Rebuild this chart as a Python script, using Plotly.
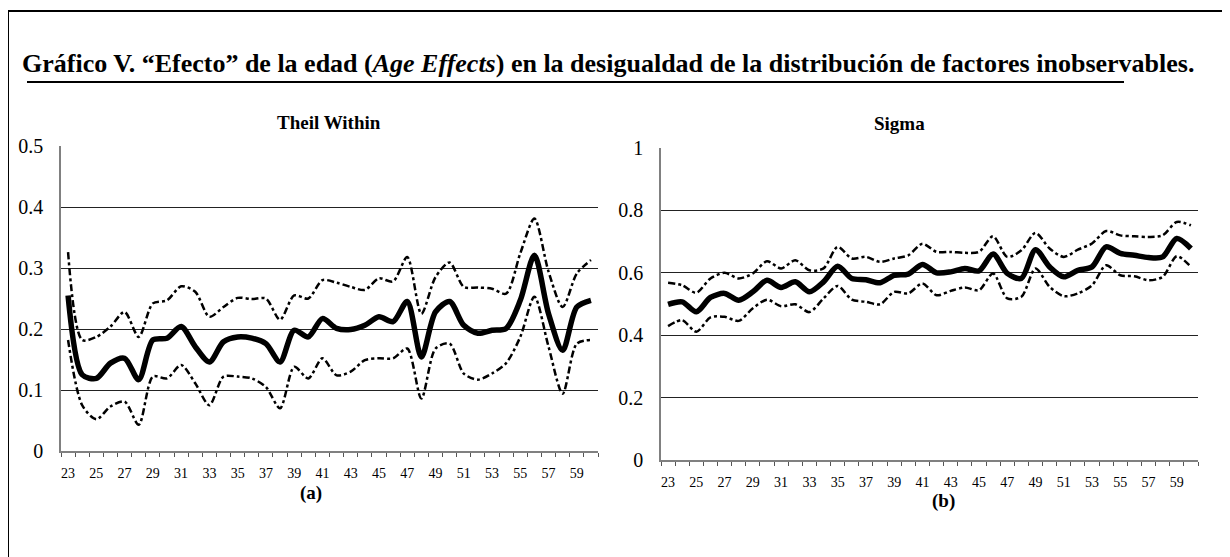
import plotly.graph_objects as go

W, H = 1230, 557
ages = list(range(23, 61))

theil_est = [0.255, 0.125, 0.119, 0.144, 0.152, 0.117, 0.182, 0.185, 0.204, 0.171,
             0.146, 0.179, 0.187, 0.185, 0.176, 0.146, 0.198, 0.187, 0.217, 0.201,
             0.199, 0.206, 0.220, 0.212, 0.245, 0.154, 0.228, 0.245, 0.206, 0.193,
             0.198, 0.201, 0.247, 0.321, 0.225, 0.165, 0.236, 0.247]
theil_up = [0.326, 0.182, 0.187, 0.204, 0.228, 0.187, 0.242, 0.247, 0.270, 0.261,
            0.220, 0.236, 0.251, 0.249, 0.250, 0.215, 0.255, 0.250, 0.280, 0.276,
            0.269, 0.264, 0.283, 0.278, 0.318, 0.225, 0.285, 0.309, 0.269, 0.268,
            0.266, 0.258, 0.324, 0.381, 0.294, 0.236, 0.291, 0.313]
theil_lo = [0.182, 0.075, 0.052, 0.073, 0.081, 0.043, 0.122, 0.119, 0.141, 0.111,
            0.075, 0.122, 0.122, 0.119, 0.105, 0.070, 0.138, 0.119, 0.152, 0.124,
            0.130, 0.149, 0.152, 0.152, 0.168, 0.086, 0.168, 0.176, 0.127, 0.117,
            0.127, 0.144, 0.187, 0.253, 0.171, 0.094, 0.176, 0.182]

sigma_est = [0.499, 0.507, 0.475, 0.521, 0.534, 0.512, 0.539, 0.576, 0.553, 0.571,
             0.539, 0.571, 0.621, 0.582, 0.578, 0.568, 0.592, 0.596, 0.627, 0.600,
             0.603, 0.614, 0.606, 0.660, 0.598, 0.582, 0.674, 0.619, 0.587, 0.608,
             0.619, 0.683, 0.662, 0.656, 0.649, 0.651, 0.710, 0.678]
sigma_up = [0.568, 0.560, 0.536, 0.582, 0.600, 0.582, 0.598, 0.637, 0.614, 0.640,
            0.608, 0.614, 0.683, 0.646, 0.651, 0.635, 0.646, 0.656, 0.693, 0.667,
            0.667, 0.664, 0.667, 0.717, 0.651, 0.672, 0.728, 0.678, 0.651, 0.674,
            0.694, 0.734, 0.720, 0.717, 0.715, 0.720, 0.763, 0.752]
sigma_lo = [0.429, 0.448, 0.411, 0.457, 0.459, 0.446, 0.486, 0.514, 0.493, 0.499,
            0.474, 0.518, 0.558, 0.514, 0.507, 0.499, 0.539, 0.534, 0.566, 0.528,
            0.542, 0.553, 0.544, 0.598, 0.518, 0.523, 0.614, 0.555, 0.525, 0.534,
            0.560, 0.624, 0.592, 0.589, 0.576, 0.587, 0.653, 0.619]

tick_labels = [str(a) for a in range(23, 61, 2)]

SERIF = "Liberation Serif"
DASH = "7px,3px,3px,3px"
OFF = 8  # page body margin in the browser

fig = go.Figure()

def add_panel(xa, ya, est, up, lo):
    for band in (up, lo):
        fig.add_trace(go.Scatter(x=ages, y=band, mode="lines",
                                 line=dict(color="black", width=2.5, dash=DASH, shape="spline", smoothing=0.8),
                                 xaxis=xa, yaxis=ya, showlegend=False, hoverinfo="skip"))
    fig.add_trace(go.Scatter(x=ages, y=est, mode="lines",
                             line=dict(color="black", width=5.5, shape="spline", smoothing=0.8),
                             xaxis=xa, yaxis=ya, showlegend=False, hoverinfo="skip"))

add_panel("x", "y", theil_est, theil_up, theil_lo)
add_panel("x2", "y2", sigma_est, sigma_up, sigma_lo)

def px_x(p):
    return max(0.0, (p - OFF) / W)

def px_y(p):
    return min(1.0, 1 - (p - OFF) / H)

xcommon = dict(
    range=[22.5, 60.5], tickmode="array", tickvals=list(range(23, 61, 2)), ticktext=tick_labels,
    ticks="outside", ticklen=0, showgrid=False, zeroline=False, showline=True, linecolor="#808080", linewidth=1.5,
    tickfont=dict(family=SERIF, size=14, color="black"), ticklabelstandoff=8, automargin=False,
    minor=dict(tickmode="array", tickvals=[22.5 + i for i in range(39)], ticks="outside", ticklen=4,
               tickcolor="#555555", tickwidth=1, showgrid=False),
    fixedrange=True,
)
ycommon = dict(
    showgrid=True, gridcolor="#222222", gridwidth=1, zeroline=False, showline=True, linecolor="#808080", linewidth=1.5,
    ticks="", tickfont=dict(family=SERIF, size=20, color="black"), ticklabelstandoff=12, automargin=False,
    fixedrange=True,
)

fig.update_layout(
    template="none",
    width=W, height=H, autosize=False, margin=dict(l=0, r=0, t=0, b=0, pad=0),
    paper_bgcolor="white", plot_bgcolor="white",
    xaxis=dict(domain=[px_x(61), px_x(598)], anchor="y", **xcommon),
    yaxis=dict(domain=[px_y(451), px_y(146)], anchor="x", range=[0, 0.5],
               tickvals=[0, 0.1, 0.2, 0.3, 0.4, 0.5],
               ticktext=["0", "0.1", "0.2", "0.3", "0.4", "0.5"], **ycommon),
    xaxis2=dict(domain=[px_x(661), px_x(1198)], anchor="y2", **xcommon),
    yaxis2=dict(domain=[px_y(460), px_y(148)], anchor="x2", range=[0, 1],
                tickvals=[0, 0.2, 0.4, 0.6, 0.8, 1],
                ticktext=["0", "0.2", "0.4", "0.6", "0.8", "1"], **ycommon),
)

annotations = [
    dict(text="<b>Gráfico V. “Efecto” de la edad (<i>Age Effects</i>) en la desigualdad de la distribución de factores inobservables.</b>",
         x=px_x(20), y=px_y(63), xanchor="left", yanchor="middle", font=dict(family=SERIF, size=26, color="black")),
    dict(text="<b>Theil Within</b>", x=px_x(329), y=px_y(122), xanchor="center", yanchor="middle",
         font=dict(family=SERIF, size=19, color="black")),
    dict(text="<b>Sigma</b>", x=px_x(899), y=px_y(124), xanchor="center", yanchor="middle",
         font=dict(family=SERIF, size=19, color="black")),
    dict(text="<b>(a)</b>", x=px_x(311), y=px_y(493), xanchor="center", yanchor="middle",
         font=dict(family=SERIF, size=19, color="black")),
    dict(text="<b>(b)</b>", x=px_x(943), y=px_y(501), xanchor="center", yanchor="middle",
         font=dict(family=SERIF, size=19, color="black")),
]
for a in annotations:
    a["xref"] = "paper"
    a["yref"] = "paper"
    a["showarrow"] = False
fig.update_layout(annotations=annotations)

shapes = [
    dict(type="line", xref="paper", yref="paper", x0=px_x(8), x1=px_x(8), y0=px_y(11), y1=0,
         line=dict(color="black", width=2)),
    dict(type="line", xref="paper", yref="paper", x0=px_x(8), x1=1, y0=px_y(11), y1=px_y(11),
         line=dict(color="black", width=2)),
    dict(type="line", xref="paper", yref="paper", x0=px_x(27), x1=px_x(1124), y0=px_y(82), y1=px_y(82),
         line=dict(color="black", width=2)),
]
fig.update_layout(shapes=shapes)

fig.write_html("out.html")
